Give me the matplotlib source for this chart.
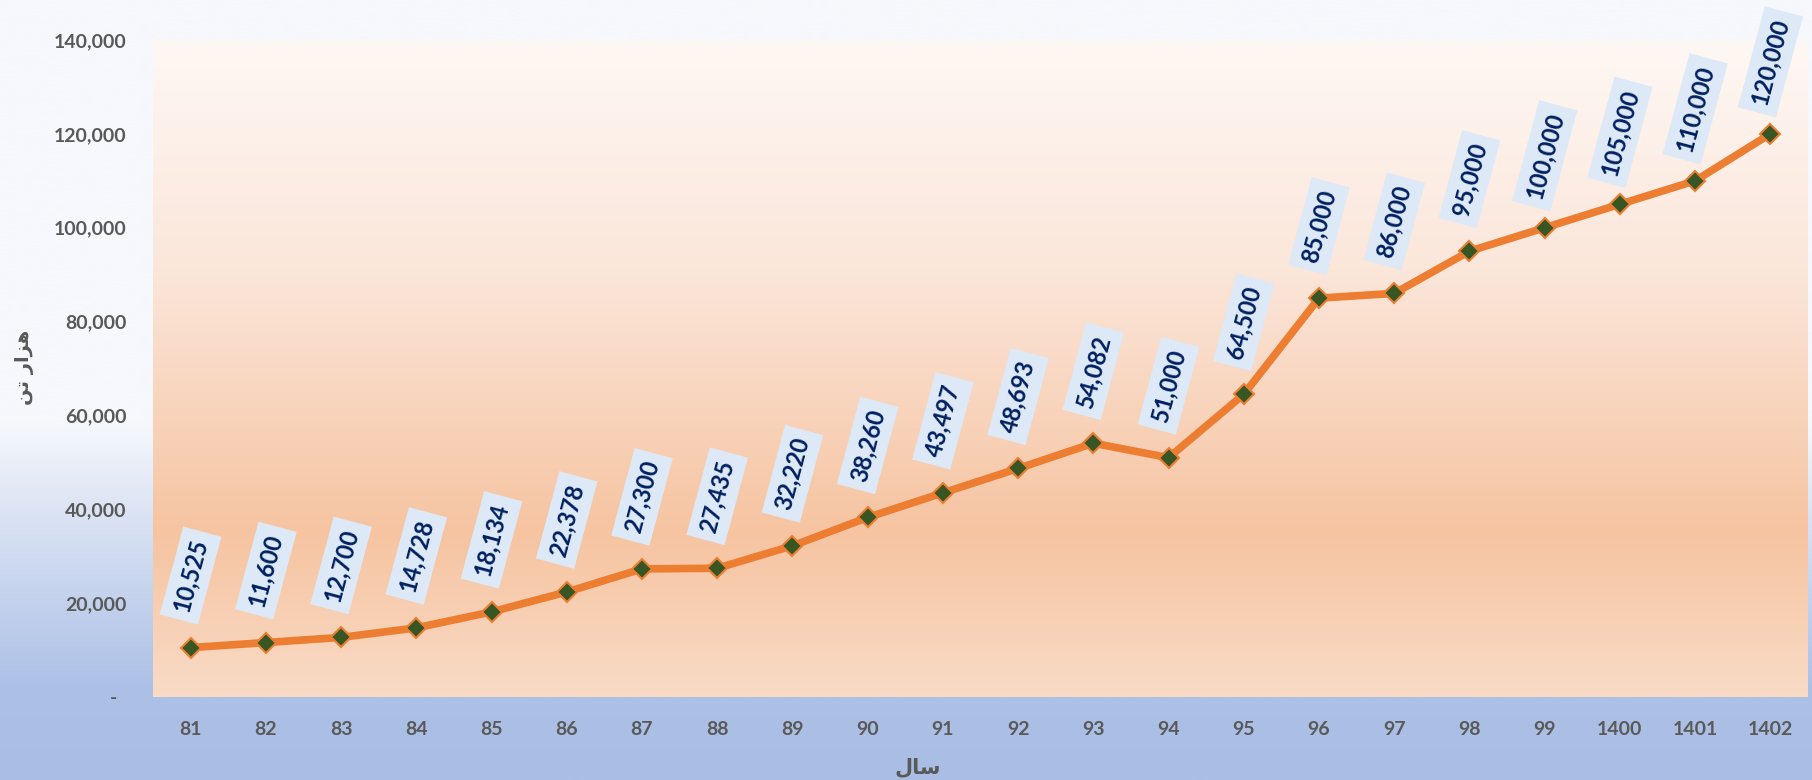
import numpy as np
import matplotlib
matplotlib.use("Agg")
from matplotlib import pyplot as plt
from matplotlib.colors import to_rgb

years = ["81", "82", "83", "84", "85", "86", "87", "88", "89", "90", "91",
         "92", "93", "94", "95", "96", "97", "98", "99", "1400", "1401", "1402"]
values = [10525, 11600, 12700, 14728, 18134, 22378, 27300, 27435, 32220, 38260,
          43497, 48693, 54082, 51000, 64500, 85000, 86000, 95000, 100000,
          105000, 110000, 120000]
yticks = [0, 20000, 40000, 60000, 80000, 100000, 120000, 140000]

# persian labels, pre-shaped (presentation forms, visual order)
xlabel = "\uFEDD\uFE8E\uFEB3"              # سال
ylabel = "\uFEE6\uFE97 \uFEAD\uFE8D\uFEB0\uFEEB"  # هزار تن


def gradient(stops, n=400):
    pos = [s[0] for s in stops]
    cols = np.array([to_rgb(s[1]) for s in stops])
    t = np.linspace(0, 1, n)
    g = np.stack([np.interp(t, pos, cols[:, k]) for k in range(3)], axis=1)
    return g[:, None, :]


fig = plt.figure(figsize=(18.12, 7.8), dpi=100)
fig.patch.set_facecolor("#f6f8fc")

bg = fig.add_axes([0, 0, 1, 1], zorder=-10)
bg.imshow(gradient([(0, "#f6f8fc"), (0.54, "#f6f8fc"), (0.68, "#d6e0f2"),
                    (0.88, "#adc0e6"), (1, "#aabee5")]),
          aspect="auto", extent=[0, 1, 0, 1])
bg.axis("off")

ax = fig.add_axes([153 / 1812, 1 - 697 / 780, 1655 / 1812, 657 / 780])
ax.set_facecolor("none")
ax.imshow(gradient([(0, "#fef8f4"), (0.35, "#fbe6da"), (0.75, "#f6c4a1"),
                    (1, "#f9dbc6")]),
          aspect="auto", extent=[0, 1, 0, 1], transform=ax.transAxes, zorder=0)

x = np.arange(len(years))
ax.plot(x, values, color="#ed7d31", lw=5.5, marker="D", markersize=10,
        markerfacecolor="#375623", markeredgecolor="#ed7d31", markeredgewidth=1.5,
        zorder=3)

for i, v in enumerate(values):
    ax.annotate(f"{v:,}", (i, v), xytext=(0, 72), textcoords="offset pixels",
                rotation=75, ha="center", va="center", rotation_mode="anchor",
                color="#002060", fontsize=17, fontweight="bold",
                family="Lato",
                bbox=dict(boxstyle="square,pad=0.35", fc="#dde9f6", ec="none"),
                zorder=4, annotation_clip=False)

ax.set_xlim(-0.5, len(years) - 0.5)
ax.set_ylim(0, 140000)
ax.set_xticks(x)
ax.set_xticklabels(years)
ax.set_yticks(yticks)
ax.set_yticklabels(["-  " if t == 0 else f"{t:,}" for t in yticks])
ax.tick_params(axis="x", length=0, pad=17)
ax.tick_params(axis="y", length=0, pad=19)
for lab in ax.get_xticklabels() + ax.get_yticklabels():
    lab.set_family("Lato")
    lab.set_fontweight("bold")
    lab.set_fontsize(14)
    lab.set_color("#595959")
for s in ax.spines.values():
    s.set_visible(False)

fig.text(918 / 1812, 1 - 767 / 780, xlabel, ha="center", va="center",
         family="DejaVu Sans", fontweight="bold", fontsize=15, color="#595959")
fig.text(25 / 1812, 1 - 367 / 780, ylabel, ha="center", va="center", rotation=90,
         family="DejaVu Sans", fontweight="bold", fontsize=14, color="#595959")

fig.savefig("out.png", dpi=100)
